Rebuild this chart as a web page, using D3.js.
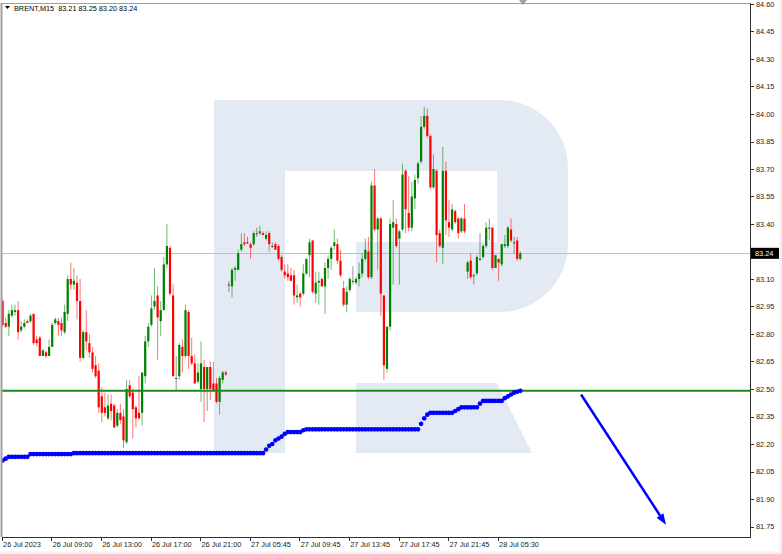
<!DOCTYPE html>
<html><head><meta charset="utf-8">
<script src="https://cdn.jsdelivr.net/npm/d3@7"></script>
<style>html,body{margin:0;padding:0;background:#fff;}svg{display:block;font-family:"Liberation Sans",Arial,sans-serif;}</style>
</head><body><svg id="c" width="782" height="554"></svg>
<script>
const symbolTitle = "BRENT,M15";
const opens = [
82.98,82.86,82.84,82.90,82.92,82.93,82.82,82.84,82.87,82.87,
82.91,82.77,82.78,82.68,82.70,82.68,82.73,82.86,82.87,82.86,
82.81,82.91,83.10,83.07,83.08,82.98,82.67,82.81,82.75,82.70,
82.63,82.60,82.46,82.40,82.34,82.42,82.41,82.30,82.37,82.35,
82.21,82.52,82.48,82.40,82.37,82.37,82.57,82.76,82.85,82.95,
83.01,82.87,82.93,83.18,83.27,83.01,82.56,82.57,82.73,82.68,
82.92,82.68,82.64,82.54,82.50,82.62,82.50,82.62,82.53,82.53,
82.43,82.55,82.59,83.07,83.06,83.15,83.15,83.26,83.30,83.30,
83.29,83.29,83.35,83.35,83.35,83.32,83.35,83.28,83.29,83.28,
83.22,83.14,83.13,83.12,83.12,83.00,83.02,83.02,83.13,83.23,
83.31,83.02,83.08,83.10,83.06,83.16,83.21,83.28,83.29,83.20,
83.05,82.96,83.04,83.09,83.08,83.10,83.13,83.21,83.25,83.11,
83.61,83.37,83.43,83.01,82.61,82.84,83.38,83.40,83.32,83.37,
83.69,83.46,83.38,83.54,83.65,83.74,83.93,83.99,83.88,83.60,
83.69,83.35,83.27,83.69,83.41,83.37,83.47,83.43,83.36,83.43,
83.14,83.20,83.12,83.13,83.21,83.22,83.28,83.38,83.38,83.16,
83.21,83.18,83.28,83.28,83.37,83.30,83.31,83.21];
const highs = [
82.99,82.89,82.93,82.96,82.96,82.98,82.87,82.88,82.88,82.91,
82.91,82.79,82.79,82.72,82.71,82.77,82.86,82.89,82.89,82.89,
82.96,83.12,83.19,83.16,83.12,83.10,82.82,82.93,82.80,82.73,
82.68,82.64,82.51,82.48,82.47,82.47,82.42,82.39,82.42,82.39,
82.55,82.55,82.50,82.41,82.57,82.59,82.79,82.86,83.01,83.16,
83.06,82.98,83.22,83.40,83.28,83.07,82.68,82.75,82.77,82.96,
82.93,82.78,82.69,82.64,82.76,82.66,82.62,82.65,82.65,82.56,
82.57,82.60,82.60,83.09,83.16,83.17,83.26,83.35,83.35,83.33,
83.30,83.36,83.38,83.39,83.36,83.36,83.36,83.30,83.30,83.29,
83.23,83.18,83.18,83.16,83.15,83.07,83.03,83.18,83.21,83.32,
83.31,83.14,83.14,83.11,83.19,83.23,83.28,83.37,83.32,83.26,
83.09,83.06,83.11,83.17,83.11,83.19,83.24,83.32,83.33,83.63,
83.70,83.44,83.44,83.01,82.84,83.43,83.53,83.43,83.37,83.73,
83.70,83.66,83.63,83.67,83.74,83.99,84.04,84.03,83.89,83.78,
83.70,83.37,83.82,83.74,83.53,83.51,83.48,83.44,83.44,83.51,
83.20,83.24,83.13,83.23,83.35,83.29,83.41,83.43,83.38,83.23,
83.21,83.29,83.34,83.39,83.43,83.33,83.33,83.25];
const lows = [
82.84,82.83,82.79,82.89,82.90,82.77,82.81,82.83,82.86,82.86,
82.74,82.73,82.68,82.68,82.67,82.68,82.73,82.85,82.79,82.79,
82.80,82.87,83.04,83.04,82.88,82.65,82.66,82.71,82.67,82.59,
82.56,82.37,82.32,82.35,82.33,82.33,82.29,82.29,82.31,82.18,
82.20,82.45,82.23,82.29,82.33,82.30,82.53,82.73,82.84,82.93,
82.66,82.79,82.93,83.16,83.01,82.57,82.49,82.55,82.59,82.67,
82.61,82.63,82.53,82.53,82.43,82.32,82.38,82.44,82.49,82.42,
82.36,82.53,82.57,83.03,83.00,83.09,83.15,83.25,83.28,83.29,
83.21,83.28,83.33,83.34,83.34,83.31,83.25,83.27,83.26,83.20,
83.14,83.10,83.09,83.09,82.96,82.97,82.95,83.01,83.12,83.11,
83.02,82.97,82.96,83.06,82.91,83.10,83.15,83.26,83.18,83.11,
82.95,82.92,83.03,83.07,83.07,83.06,83.11,83.20,83.10,83.10,
83.36,83.15,82.90,82.55,82.59,82.82,83.07,83.27,83.07,83.36,
83.35,83.36,83.36,83.48,83.62,83.73,83.92,83.87,83.59,83.59,
83.19,83.27,83.18,83.34,83.33,83.36,83.40,83.32,83.35,83.35,
83.10,83.10,83.07,83.12,83.20,83.21,83.27,83.31,83.15,83.16,
83.09,83.17,83.27,83.27,83.30,83.24,83.20,83.20];
const closes = [
82.85,82.84,82.91,82.93,82.93,82.81,82.84,82.86,82.86,82.90,
82.75,82.75,82.68,82.71,82.68,82.73,82.85,82.88,82.85,82.82,
82.92,83.10,83.07,83.09,82.98,82.67,82.81,82.76,82.70,82.61,
82.57,82.40,82.37,82.37,82.41,82.38,82.29,82.37,82.33,82.22,
82.50,82.46,82.39,82.34,82.34,82.59,82.76,82.84,82.94,82.98,
82.89,82.93,83.18,83.28,83.02,82.57,82.56,82.74,82.68,82.93,
82.68,82.64,82.53,82.59,82.64,82.50,82.62,82.50,82.49,82.43,
82.56,82.59,82.58,83.07,83.15,83.16,83.24,83.29,83.29,83.30,
83.27,83.35,83.35,83.36,83.34,83.34,83.29,83.28,83.26,83.21,
83.15,83.12,83.11,83.09,83.01,83.01,83.00,83.13,83.21,83.30,
83.03,83.08,83.09,83.06,83.16,83.21,83.27,83.30,83.20,83.12,
82.96,83.03,83.10,83.09,83.10,83.13,83.21,83.26,83.11,83.61,
83.37,83.43,83.02,82.63,82.84,83.40,83.41,83.28,83.36,83.67,
83.48,83.38,83.55,83.64,83.73,83.93,83.99,83.88,83.60,83.70,
83.34,83.28,83.69,83.42,83.38,83.48,83.41,83.35,83.43,83.36,
83.19,83.11,83.12,83.22,83.21,83.28,83.38,83.38,83.16,83.23,
83.19,83.29,83.29,83.38,83.31,83.30,83.21,83.24];
const supportLine = [
82.11,82.12,82.13,82.13,82.13,82.13,82.13,82.13,82.13,82.145,
82.145,82.145,82.145,82.145,82.145,82.145,82.145,82.145,82.145,82.145,
82.145,82.145,82.145,82.15,82.15,82.15,82.15,82.15,82.15,82.15,
82.15,82.15,82.15,82.15,82.15,82.15,82.15,82.15,82.15,82.15,
82.15,82.15,82.15,82.15,82.15,82.15,82.15,82.15,82.15,82.15,
82.15,82.15,82.15,82.15,82.15,82.15,82.15,82.15,82.15,82.15,
82.15,82.15,82.15,82.15,82.15,82.15,82.15,82.15,82.15,82.15,
82.15,82.15,82.15,82.15,82.15,82.15,82.15,82.15,82.15,82.15,
82.15,82.15,82.15,82.15,82.15,82.17,82.19,82.20,82.22,82.23,
82.24,82.255,82.265,82.265,82.265,82.265,82.265,82.275,82.28,82.28,
82.28,82.28,82.28,82.28,82.28,82.28,82.28,82.28,82.28,82.28,
82.28,82.28,82.28,82.28,82.28,82.28,82.28,82.28,82.28,82.28,
82.28,82.28,82.28,82.28,82.28,82.28,82.28,82.28,82.28,82.28,
82.28,82.28,82.28,82.28,82.28,82.31,82.34,82.36,82.37,82.37,
82.37,82.37,82.37,82.37,82.37,82.37,82.38,82.39,82.40,82.40,
82.40,82.40,82.40,82.40,82.42,82.435,82.435,82.435,82.435,82.435,
82.435,82.435,82.45,82.46,82.47,82.48,82.485,82.49];
const levelPrice = 82.49;
const yTickValues = [84.60,84.45,84.30,84.15,84.00,83.85,83.70,83.55,83.40,83.25,83.10,82.95,82.80,82.65,82.50,82.35,82.20,82.05,81.90,81.75];
const yTickLabels = ["84.60","84.45","84.30","84.15","84.00","83.85","83.70","83.55","83.40","","83.10","82.95","82.80","82.65","82.50","82.35","82.20","82.05","81.90","81.75"];
const xTickBars = [0,16,32,48,64,80,96,112,128,144,160];
const xTickLabels = ["26 Jul 2023","26 Jul 09:00","26 Jul 13:00","26 Jul 17:00","26 Jul 21:00","27 Jul 05:45","27 Jul 09:45","27 Jul 13:45","27 Jul 17:45","27 Jul 21:45","28 Jul 05:30"];
const arrowFrom = [186.6, 82.47];
const arrowTo = [214.0, 81.76];

const svg = d3.select("#c");
const P = {left:2, top:3, right:750, bottom:537};
const x = d3.scaleLinear().domain([0, 240]).range([2.6, 746.6]);
const y = d3.scaleLinear().domain([81.75, 84.60]).range([526.5, 4]);
const fs = 7.3;

// outer strips
svg.append("rect").attr("x",0).attr("y",551.5).attr("width",782).attr("height",3).attr("fill","#f0f0f0");
svg.append("rect").attr("x",779.5).attr("y",0).attr("width",3).attr("height",554).attr("fill","#f0f0f0");

svg.append("defs").append("clipPath").attr("id","pc").append("rect")
  .attr("x",P.left).attr("y",P.top).attr("width",P.right-P.left).attr("height",P.bottom-P.top);
const g = svg.append("g").attr("clip-path","url(#pc)");

// watermark logo (decoration)
const wm = g.append("g").attr("fill","#e4eaf3");
wm.append("rect").attr("x",214).attr("y",100).attr("width",71).attr("height",353);
wm.append("path").attr("d","M285,100 L500,100 A68,68 0 0 1 568,168 L568,244 A68,68 0 0 1 500,312 L356,312 L356,242 L497,242 L497,171 L285,171 Z");
wm.append("path").attr("d","M356,383 L497,383 L532,453 L356,453 Z");

// current price line
g.append("line").attr("x1",P.left).attr("x2",P.right).attr("y1",Math.round(y(closes[closes.length-1]))+0.5).attr("y2",Math.round(y(closes[closes.length-1]))+0.5)
  .attr("stroke","#c0c0c0").attr("stroke-width",1);

// candles
const idx = d3.range(opens.length);
const colorOf = i => closes[i] > opens[i] ? "#008000" : (closes[i] < opens[i] ? "#ff0000" : "#404040");
const cg = g.append("g");
cg.selectAll("line.w").data(idx).join("line").attr("class","w")
  .attr("x1",i=>x(i)).attr("x2",i=>x(i))
  .attr("y1",i=>y(highs[i])).attr("y2",i=>y(lows[i]))
  .attr("stroke",i=>colorOf(i)).attr("stroke-width",1).attr("stroke-opacity",0.55);
cg.selectAll("rect.b").data(idx).join("rect").attr("class","b")
  .attr("x",i=>x(i)-1.1).attr("width",2.2)
  .attr("y",i=>y(Math.max(opens[i],closes[i])))
  .attr("height",i=>Math.max(1,y(Math.min(opens[i],closes[i]))-y(Math.max(opens[i],closes[i]))))
  .attr("fill",i=>colorOf(i));

// support level
g.append("line").attr("x1",P.left).attr("x2",P.right).attr("y1",y(levelPrice)).attr("y2",y(levelPrice))
  .attr("stroke","#1a8a1a").attr("stroke-width",2);

// blue dotted indicator
g.append("g").selectAll("circle").data(supportLine).join("circle")
  .attr("cx",(d,i)=>x(i)).attr("cy",d=>y(d)).attr("r",2.3).attr("fill","#0000ff");

// arrow
const ax1=x(arrowFrom[0]), ay1=y(arrowFrom[1]), ax2=x(arrowTo[0]), ay2=y(arrowTo[1]);
const ang=Math.atan2(ay2-ay1, ax2-ax1), hl=11, hw=4;
const bx=ax2-hl*Math.cos(ang), by=ay2-hl*Math.sin(ang);
g.append("line").attr("x1",ax1).attr("y1",ay1).attr("x2",bx).attr("y2",by).attr("stroke","#0000ff").attr("stroke-width",2.5);
g.append("path").attr("d",`M${ax2},${ay2} L${bx+hw*Math.sin(ang)},${by-hw*Math.cos(ang)} L${bx-hw*Math.sin(ang)},${by+hw*Math.cos(ang)} Z`).attr("fill","#0000ff");

// frame
svg.append("line").attr("x1",P.left).attr("x2",P.right).attr("y1",P.top+0.5).attr("y2",P.top+0.5).attr("stroke","#a0a0a0");
svg.append("line").attr("x1",1.5).attr("x2",1.5).attr("y1",P.top).attr("y2",P.bottom).attr("stroke","#a0a0a0").attr("stroke-width",2);
svg.append("line").attr("x1",P.right+0.5).attr("x2",P.right+0.5).attr("y1",P.top).attr("y2",P.bottom+0.5).attr("stroke","#303030");
svg.append("line").attr("x1",P.left).attr("x2",P.right+1).attr("y1",P.bottom+0.5).attr("y2",P.bottom+0.5).attr("stroke","#303030");
svg.append("path").attr("d","M519,0 L527,0 L523,5 Z").attr("fill","#a0a0a0");

// y axis
const ya = svg.append("g");
ya.selectAll("line").data(yTickValues).join("line")
  .attr("x1",P.right+1).attr("x2",P.right+4).attr("y1",d=>Math.round(y(d))+0.5).attr("y2",d=>Math.round(y(d))+0.5).attr("stroke","#303030");
ya.selectAll("text").data(yTickValues).join("text")
  .attr("x",P.right+6).attr("y",d=>y(d)+2.6).attr("font-size",fs).attr("fill","#222")
  .text((d,i)=>yTickLabels[i]);
const lp = closes[closes.length-1];
svg.append("rect").attr("x",P.right+1).attr("y",y(lp)-5.5).attr("width",28).attr("height",11).attr("fill","#000");
svg.append("text").attr("x",P.right+5).attr("y",y(lp)+2.6).attr("font-size",fs).attr("fill","#fff").text(lp.toFixed(2));

// x axis
const xa = svg.append("g");
xa.selectAll("line").data(xTickBars).join("line")
  .attr("x1",d=>Math.round(x(d)-0.8)+0.5).attr("x2",d=>Math.round(x(d)-0.8)+0.5)
  .attr("y1",P.bottom+1).attr("y2",P.bottom+4).attr("stroke","#303030");
xa.selectAll("text").data(xTickBars).join("text")
  .attr("x",d=>x(d)+0.5).attr("y",P.bottom+10).attr("font-size",fs).attr("fill","#222")
  .text((d,i)=>xTickLabels[i]);

// header
const n = closes.length-1;
svg.append("path").attr("d","M5,6 L10,6 L7.5,9 Z").attr("fill","#000");
svg.append("text").attr("x",14).attr("y",11).attr("font-size",fs).attr("fill","#000").style("white-space","pre")
  .text(`${symbolTitle}  ${opens[n].toFixed(2)} ${highs[n].toFixed(2)} ${lows[n].toFixed(2)} ${closes[n].toFixed(2)}`);
</script></body></html>
